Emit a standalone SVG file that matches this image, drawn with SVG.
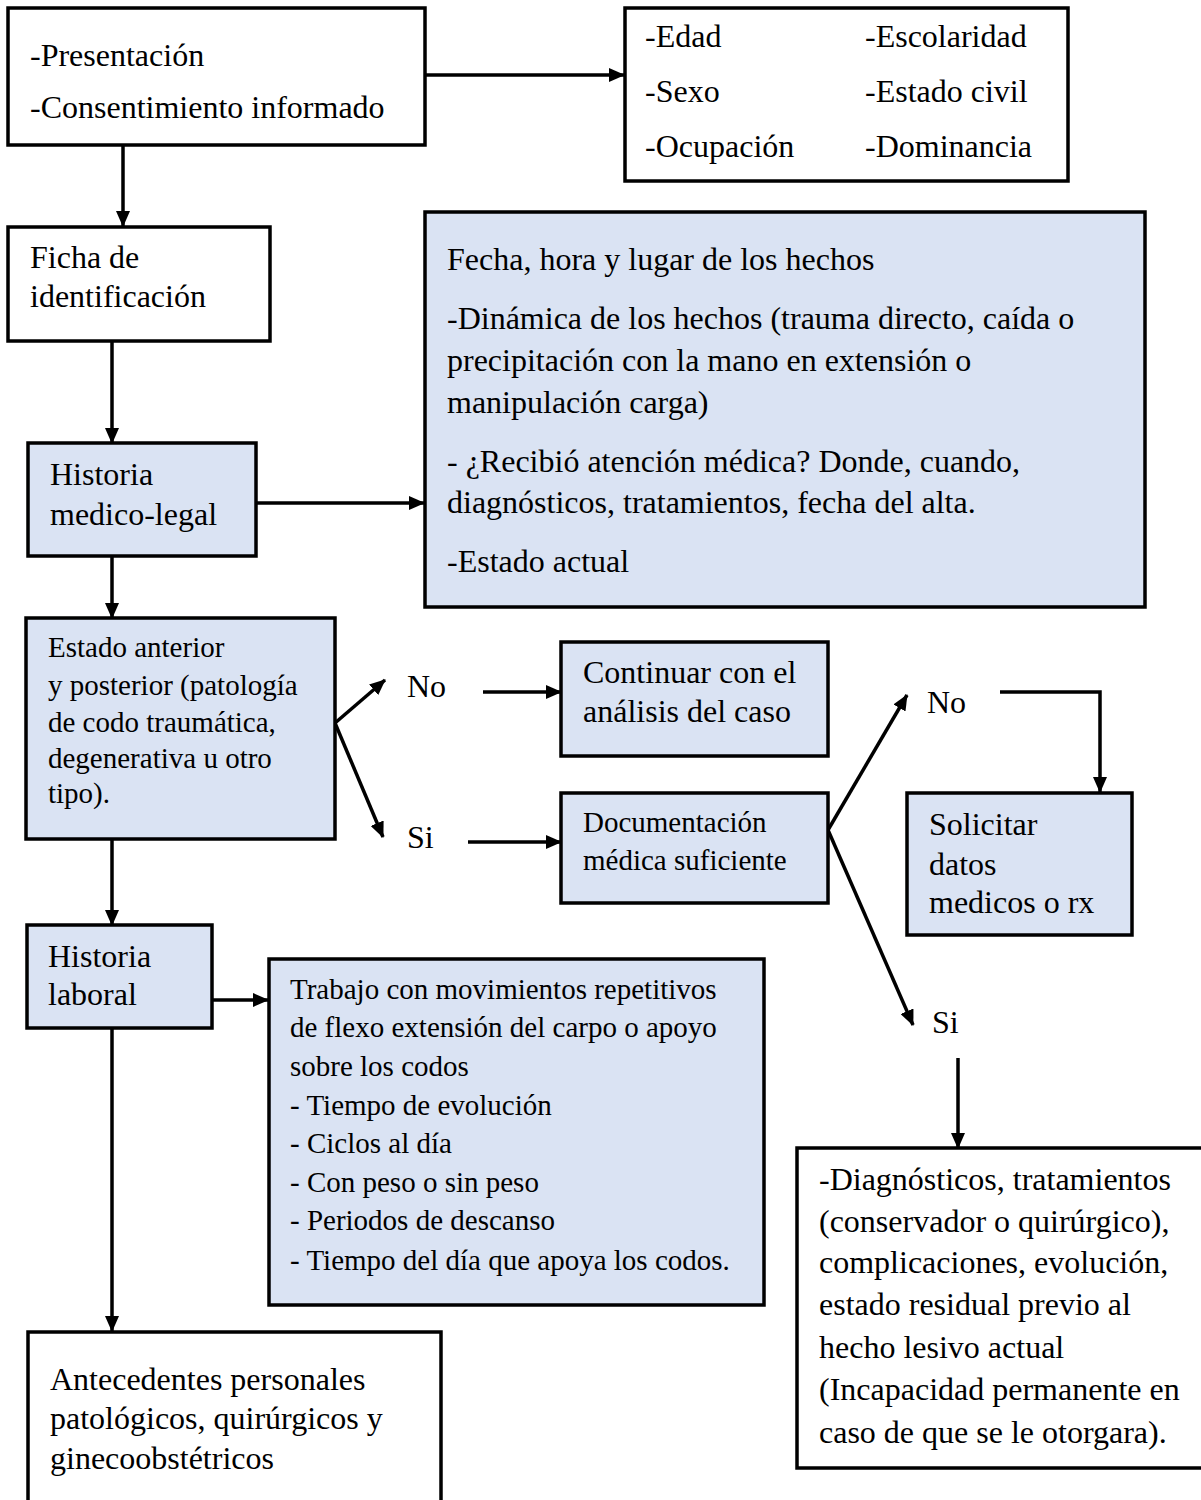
<svg xmlns="http://www.w3.org/2000/svg" width="1201" height="1500" viewBox="0 0 1201 1500">
<style>
text{font-family:"Liberation Serif","Times New Roman",serif;font-size:32px;fill:#000}
.sm{font-size:29px}
.box{stroke:#000;stroke-width:3.5;fill:#fff}
.blue{fill:#DAE3F3}
.con{stroke:#000;stroke-width:3.5;fill:none;marker-end:url(#ah)}
</style>
<defs>
<marker id="ah" markerUnits="userSpaceOnUse" markerWidth="16" markerHeight="14" refX="15" refY="7" orient="auto">
<path d="M0,0 L16,7 L0,14 z" fill="#000"/>
</marker>
</defs>
<rect width="1201" height="1500" fill="#fff"/>
<g id="connectors">
<line class="con" x1="425" y1="75" x2="624" y2="75"/>
<line class="con" x1="123" y1="145" x2="123" y2="226"/>
<line class="con" x1="112" y1="340" x2="112" y2="443"/>
<line class="con" x1="256" y1="503" x2="424" y2="503"/>
<line class="con" x1="112" y1="556" x2="112" y2="618"/>
<line class="con" x1="335" y1="723" x2="385" y2="680"/>
<line class="con" x1="335" y1="723" x2="383" y2="837"/>
<line class="con" x1="483" y1="692" x2="561" y2="692"/>
<line class="con" x1="468" y1="842" x2="561" y2="842"/>
<line class="con" x1="828" y1="830" x2="907" y2="695"/>
<line class="con" x1="828" y1="830" x2="913" y2="1025"/>
<polyline class="con" points="1000,692 1100,692 1100,792"/>
<line class="con" x1="958" y1="1058" x2="958" y2="1148"/>
<line class="con" x1="112" y1="839" x2="112" y2="925"/>
<line class="con" x1="212" y1="1000" x2="268" y2="1000"/>
<line class="con" x1="112" y1="1028" x2="112" y2="1331"/>
</g>
<g id="n-presentacion">
<rect class="box" x="8" y="8" width="417" height="137"/>
<text x="30" y="66">-Presentación</text>
<text x="30" y="118">-Consentimiento informado</text>
</g>
<g id="n-datos">
<rect class="box" x="625" y="8" width="443" height="173"/>
<text x="645" y="47">-Edad</text>
<text x="865" y="47">-Escolaridad</text>
<text x="645" y="102">-Sexo</text>
<text x="865" y="102">-Estado civil</text>
<text x="645" y="157">-Ocupación</text>
<text x="865" y="157">-Dominancia</text>
</g>
<g id="n-ficha">
<rect class="box" x="8" y="227" width="262" height="114"/>
<text x="30" y="268">Ficha de</text>
<text x="30" y="307">identificación</text>
</g>
<g id="n-hechos">
<rect class="box blue" x="425" y="212" width="720" height="395"/>
<text x="447" y="270">Fecha, hora y lugar de los hechos</text>
<text x="447" y="329">-Dinámica de los hechos (trauma directo, caída o</text>
<text x="447" y="371">precipitación con la mano en extensión o</text>
<text x="447" y="413">manipulación carga)</text>
<text x="447" y="472">- ¿Recibió atención médica? Donde, cuando,</text>
<text x="447" y="513">diagnósticos, tratamientos, fecha del alta.</text>
<text x="447" y="572">-Estado actual</text>
</g>
<g id="n-historia-ml">
<rect class="box blue" x="28" y="443" width="228" height="113"/>
<text x="50" y="485">Historia</text>
<text x="50" y="525">medico-legal</text>
</g>
<g id="n-estado">
<rect class="box blue" x="26" y="618" width="309" height="221"/>
<text class="sm" x="48" y="657">Estado anterior</text>
<text class="sm" x="48" y="695">y posterior (patología</text>
<text class="sm" x="48" y="732">de codo traumática,</text>
<text class="sm" x="48" y="768">degenerativa u otro</text>
<text class="sm" x="48" y="803">tipo).</text>
</g>
<g id="l-no1"><text x="407" y="697">No</text></g>
<g id="l-si1"><text x="407" y="848">Si</text></g>
<g id="n-continuar">
<rect class="box blue" x="561" y="642" width="267" height="114"/>
<text x="583" y="683">Continuar con el</text>
<text x="583" y="722">análisis del caso</text>
</g>
<g id="n-documentacion">
<rect class="box blue" x="561" y="793" width="267" height="110"/>
<text class="sm" x="583" y="832">Documentación</text>
<text class="sm" x="583" y="870">médica suficiente</text>
</g>
<g id="l-no2"><text x="927" y="713">No</text></g>
<g id="l-si2"><text x="932" y="1033">Si</text></g>
<g id="n-solicitar">
<rect class="box blue" x="907" y="793" width="225" height="142"/>
<text x="929" y="835">Solicitar</text>
<text x="929" y="875">datos</text>
<text x="929" y="913">medicos o rx</text>
</g>
<g id="n-historia-laboral">
<rect class="box blue" x="27" y="925" width="185" height="103"/>
<text x="48" y="967">Historia</text>
<text x="48" y="1005">laboral</text>
</g>
<g id="n-trabajo">
<rect class="box blue" x="269" y="959" width="495" height="346"/>
<text class="sm" x="290" y="999">Trabajo con movimientos repetitivos</text>
<text class="sm" x="290" y="1037">de flexo extensión del carpo o apoyo</text>
<text class="sm" x="290" y="1076">sobre los codos</text>
<text class="sm" x="290" y="1115">- Tiempo de evolución</text>
<text class="sm" x="290" y="1153">- Ciclos al día</text>
<text class="sm" x="290" y="1192">- Con peso o sin peso</text>
<text class="sm" x="290" y="1230">- Periodos de descanso</text>
<text class="sm" x="290" y="1270">- Tiempo del día que apoya los codos.</text>
</g>
<g id="n-antecedentes">
<rect class="box" x="28" y="1332" width="413" height="190"/>
<text x="50" y="1390">Antecedentes personales</text>
<text x="50" y="1429">patológicos, quirúrgicos y</text>
<text x="50" y="1469">ginecoobstétricos</text>
</g>
<g id="n-diagnosticos">
<rect class="box" x="797" y="1148" width="420" height="320"/>
<text x="819" y="1190">-Diagnósticos, tratamientos</text>
<text x="819" y="1232">(conservador o quirúrgico),</text>
<text x="819" y="1273">complicaciones, evolución,</text>
<text x="819" y="1315">estado residual previo al</text>
<text x="819" y="1358">hecho lesivo actual</text>
<text x="819" y="1400">(Incapacidad permanente en</text>
<text x="819" y="1443">caso de que se le otorgara).</text>
</g>
</svg>
